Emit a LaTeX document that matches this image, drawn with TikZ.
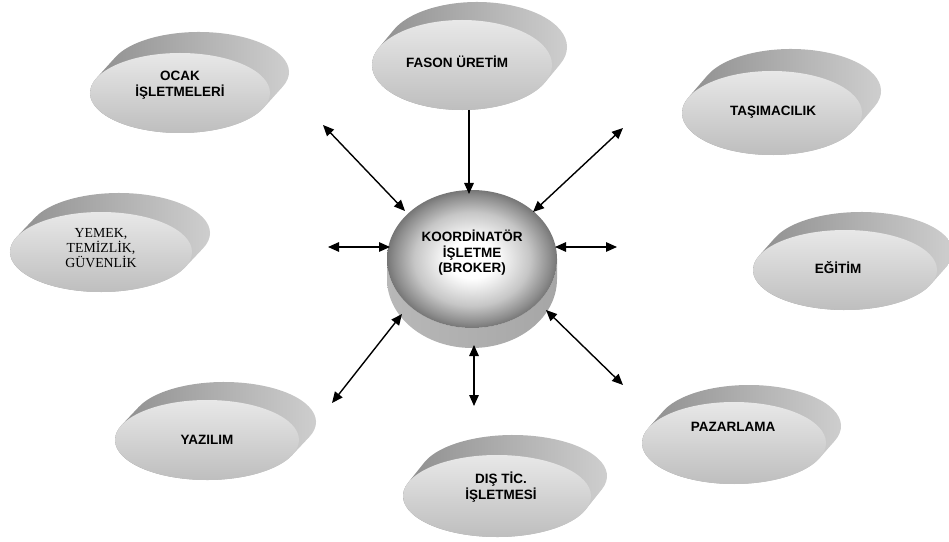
\documentclass[tikz,border=0pt]{standalone}
\usepackage{fontspec}
\setmainfont{Liberation Sans}
\newfontfamily\seriffont{Liberation Serif}
\usetikzlibrary{shapes.geometric,arrows.meta}
\definecolor{facetop}{HTML}{E8E8E8}
\definecolor{facebot}{HTML}{BEBEBE}
\definecolor{sidedark}{HTML}{8A8A8A}
\definecolor{sidelight}{HTML}{D2D2D2}
\definecolor{diskedge}{HTML}{767676}
\definecolor{diskouter}{HTML}{8C8C8C}
\definecolor{diskmid}{HTML}{C6C6C6}
\definecolor{bandL}{HTML}{B8B8B8}
\definecolor{bandM}{HTML}{DCDCDC}
\definecolor{bandR}{HTML}{A6A6A6}
\pgfdeclareradialshading{diskshade}{\pgfpoint{0bp}{0bp}}{color(0bp)=(white); color(7bp)=(white); color(17bp)=(diskmid); color(23bp)=(diskouter); color(25bp)=(diskedge); color(50bp)=(diskedge)}
\tikzset{
  face/.style={ellipse, inner sep=0pt, draw=none, top color=facetop, bottom color=facebot},
  lbl/.style={font=\fontsize{13.5}{15.5}\selectfont\bfseries, align=center, inner sep=0pt},
  slbl/.style={font=\seriffont\fontsize{13.8}{14.8}\selectfont, align=center, inner sep=0pt},
  link/.style={line width=1.4pt, {Triangle[length=11pt,width=9.5pt]}-{Triangle[length=11pt,width=9.5pt]}},
  onelink/.style={line width=1.4pt, -{Triangle[length=11pt,width=9.5pt]}},
}
% #1 name, #2 cx, #3 cy, #4 rx, #5 ry, #6 dx, #7 dy  (all in pt, y up)
\newcommand\blob[7]{%
  \pgfmathsetmacro\bt{atan2(-#5*#6,#4*#7)}%
  \pgfmathsetmacro\btb{\bt+180}%
  \pgfmathsetmacro\btc{\bt-180}%
  \pgfmathsetmacro\sx{#2+#6+#4*cos(\btb)}%
  \pgfmathsetmacro\sy{#3+#7+#5*sin(\btb)}%
  \shade[left color=sidedark, right color=sidelight]
    (\sx pt,\sy pt) arc[start angle=\btb, end angle=\bt, x radius=#4pt, y radius=#5pt]
    -- ++(-#6pt,-#7pt) arc[start angle=\bt, end angle=\btc, x radius=#4pt, y radius=#5pt] -- cycle;
  \node[face, minimum width=2*#4pt, minimum height=2*#5pt] (#1) at (#2pt,#3pt) {};
}
\begin{document}
\begin{tikzpicture}
\useasboundingbox (0,0) rectangle (949pt,541pt);

\blob{ocak}{180}{448}{90}{40}{19}{21}
\blob{fason}{462}{476}{90}{45}{15}{18}
\blob{tasima}{772}{428}{90}{42}{19}{22}
\blob{yemek}{101}{289}{91}{40}{18}{19}
\blob{egitim}{845}{271}{92}{40}{16}{18}
\blob{yazilim}{207}{101}{92}{40}{17}{18}
\blob{dis}{497}{45}{94}{41}{16}{20}
\blob{pazar}{734}{98}{92}{41}{15}{17}

\node[lbl] (ocak-t) at (180pt,456pt) {OCAK\\İŞLETMELERİ};
\node[lbl] (fason-t) at (457pt,479pt) {FASON ÜRETİM};
\node[lbl] (tasima-t) at (773pt,429pt) {TAŞIMACILIK};
\node[slbl] (yemek-t) at (101pt,293pt) {YEMEK,\\TEMİZLİK,\\GÜVENLİK};
\node[lbl] (egitim-t) at (838pt,273pt) {EĞİTİM};
\node[lbl] (yazilim-t) at (207pt,101pt) {YAZILIM};
\node[lbl] (dis-t) at (501pt,54pt) {DIŞ TİC.\\İŞLETMESİ};
\node[lbl] (pazar-t) at (733pt,114pt) {PAZARLAMA};

% central cylinder
\shade[left color=bandL, middle color=bandM, right color=bandR]
  (387pt,282pt) -- (387pt,262pt)
  arc[start angle=180, end angle=360, x radius=85pt, y radius=69pt]
  -- (557pt,282pt)
  arc[start angle=0, end angle=-180, x radius=85pt, y radius=69pt] -- cycle;
\node[ellipse, minimum width=170pt, minimum height=138pt, inner sep=0pt,
      shading=diskshade] (broker) at (472pt,282pt) {};
\node[lbl] (broker-t) at (472pt,288pt) {KOORDİNATÖR\\İŞLETME\\(BROKER)};

% arrow end points
\coordinate (o1) at (323pt,416pt);  \coordinate (o2) at (405pt,330pt);
\coordinate (f1) at (469pt,431pt);  \coordinate (f2) at (469pt,347pt);
\coordinate (t1) at (623pt,413pt);  \coordinate (t2) at (533pt,329pt);
\coordinate (y1) at (328pt,294pt);  \coordinate (y2) at (390pt,294pt);
\coordinate (e1) at (555pt,294pt);  \coordinate (e2) at (617pt,294pt);
\coordinate (z1) at (402pt,227pt);  \coordinate (z2) at (332pt,138pt);
\coordinate (d1) at (474pt,196pt);  \coordinate (d2) at (474pt,135pt);
\coordinate (p1) at (546pt,231pt);  \coordinate (p2) at (623pt,156pt);

\draw[link] (o1) -- (o2);
\draw[onelink] (f1) -- (f2);
\draw[link] (t1) -- (t2);
\draw[link] (y1) -- (y2);
\draw[link] (e1) -- (e2);
\draw[link] (z1) -- (z2);
\draw[link] (d1) -- (d2);
\draw[link] (p1) -- (p2);
\end{tikzpicture}
\end{document}
